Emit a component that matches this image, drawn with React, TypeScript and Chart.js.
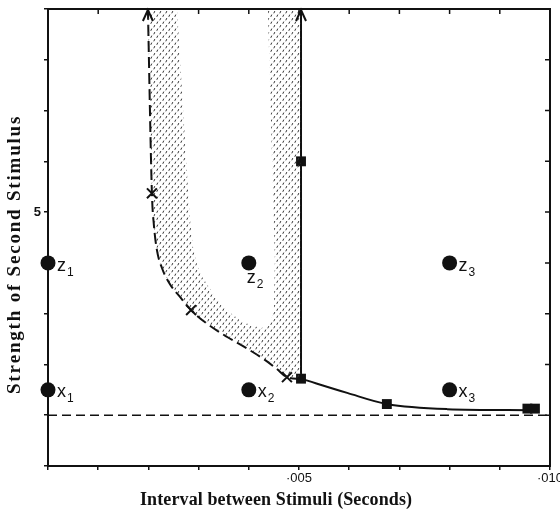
import React, { useEffect, useRef } from 'react';
import { Chart, registerables } from 'chart.js';

Chart.register(...registerables);

// ---------- axis ranges & tick labels ----------
const xMin = 0;
const xMax = 0.01;
const xStep = 0.001;
const yMin = 0;
const yMax = 9;
const yStep = 1;
const xTickLabelMilli = [5, 10];
const xTickLabelText = ['·005', '·010'];
const yTickLabelValues = [5];
const yTickLabelText = ['5'];
const xTitle = 'Interval between Stimuli (Seconds)';
const yTitle = 'Strength of Second Stimulus';

// ---------- labelled stimulus points ----------
const pointLetters = ['z', 'x', 'z', 'x', 'z', 'x'];
const pointSubs = ['1', '1', '2', '2', '3', '3'];
const pointX = [0, 0, 0.004, 0.004, 0.008, 0.008];
const pointY = [4, 1.5, 4, 1.5, 4, 1.5];

// ---------- threshold (dashed horizontal) ----------
const thresholdY = 1;

// ---------- dashed curve with crosses ----------
const dashedCurveX = [0.00199, 0.00207, 0.00211, 0.00217, 0.00227, 0.00243, 0.00263, 0.00285, 0.00313, 0.00357, 0.00392, 0.00432, 0.00456, 0.00476, 0.00504];
const dashedCurveY = [9.0, 5.37, 4.74, 4.25, 3.9, 3.58, 3.33, 3.07, 2.83, 2.54, 2.34, 2.09, 1.91, 1.75, 1.71];
const crossX = [0.00207, 0.00285, 0.00476];
const crossY = [5.37, 3.07, 1.75];

// ---------- solid curve with squares ----------
const solidVerticalX = [0.00504, 0.00504];
const solidVerticalY = [9.0, 1.72];
const solidCurveX = [0.00504, 0.00596, 0.00675, 0.00795, 0.00962];
const solidCurveY = [1.72, 1.44, 1.22, 1.12, 1.1];
const squareX = [0.00504, 0.00504, 0.00675, 0.00955, 0.0097];
const squareY = [6.0, 1.72, 1.22, 1.13, 1.13];

// ---------- shaded band (polygon: outer edge, then inner edge) ----------
const shadeX = [
  0.00199, 0.00207, 0.00211, 0.00217, 0.00227, 0.00243, 0.00263, 0.00285, 0.00313, 0.00357, 0.00392, 0.00432, 0.00456, 0.00476, 0.00504,
  0.00504, 0.00438, 0.00448, 0.00452, 0.0045, 0.00442, 0.00426, 0.00406, 0.00382, 0.0036, 0.00337, 0.00321, 0.00307, 0.00297, 0.00289, 0.00283, 0.00279, 0.00257, 0.00199,
];
const shadeY = [
  9.0, 5.37, 4.74, 4.25, 3.9, 3.58, 3.33, 3.07, 2.83, 2.54, 2.34, 2.09, 1.91, 1.75, 1.71,
  9.0, 9.0, 5.43, 4.06, 3.07, 2.78, 2.72, 2.76, 2.87, 3.05, 3.27, 3.52, 3.72, 3.96, 4.31, 4.84, 5.43, 9.0, 9.0,
];

const INK = '#111111';

const zip = (xs: number[], ys: number[]) => xs.map((x, i) => ({ x, y: ys[i] }));

function makePattern(ctx: CanvasRenderingContext2D): CanvasPattern | string {
  const c = document.createElement('canvas');
  c.width = 6;
  c.height = 7;
  const g = c.getContext('2d');
  if (!g) return 'rgba(0,0,0,0.3)';
  g.strokeStyle = '#333333';
  g.lineWidth = 1;
  g.lineCap = 'butt';
  g.beginPath();
  g.moveTo(0.8, 2.8);
  g.lineTo(1.8, 0.6);
  g.moveTo(3.8, 6.3);
  g.lineTo(4.8, 4.1);
  g.stroke();
  return ctx.createPattern(c, 'repeat') || 'rgba(0,0,0,0.3)';
}

function drawSpaced(ctx: CanvasRenderingContext2D, text: string, startX: number, y: number, targetW: number) {
  const w0 = ctx.measureText(text).width;
  const ls = (targetW - w0) / Math.max(1, text.length - 1);
  let x = startX;
  for (const ch of text) {
    ctx.fillText(ch, x, y);
    x += ctx.measureText(ch).width + ls;
  }
}

// label offsets relative to point centre (style only)
const labelDX = [9, 9, -2, 9, 9, 9];
const labelDY = [8, 7, 20, 7, 8, 7];

const overlayPlugin = {
  id: 'overlay',
  afterDatasetsDraw(chart: any) {
    const { ctx, chartArea, scales } = chart;
    const xs = scales.x;
    const ys = scales.y;
    ctx.save();
    // frame
    ctx.strokeStyle = INK;
    ctx.lineWidth = 2;
    ctx.strokeRect(chartArea.left, chartArea.top, chartArea.right - chartArea.left, chartArea.bottom - chartArea.top);
    // inward ticks top & right
    ctx.lineWidth = 1.5;
    ctx.beginPath();
    for (let m = 1; m <= 9; m++) {
      const px = xs.getPixelForValue(m * xStep);
      ctx.moveTo(px, chartArea.top);
      ctx.lineTo(px, chartArea.top + 5);
    }
    for (let v = yMin + yStep; v < yMax; v += yStep) {
      const py = ys.getPixelForValue(v);
      ctx.moveTo(chartArea.right, py);
      ctx.lineTo(chartArea.right - 5, py);
    }
    ctx.stroke();

    // arrowheads at the tops of the two vertical branches
    ctx.lineWidth = 2;
    const arrows = [
      { x: dashedCurveX[0], y: dashedCurveY[0] },
      { x: solidVerticalX[0], y: solidVerticalY[0] },
    ];
    for (const a of arrows) {
      const px = xs.getPixelForValue(a.x);
      const py = ys.getPixelForValue(a.y) + 1;
      ctx.beginPath();
      ctx.moveTo(px - 5, py + 11);
      ctx.lineTo(px, py);
      ctx.lineTo(px + 5, py + 11);
      ctx.stroke();
    }

    // point labels with subscripts
    ctx.fillStyle = INK;
    ctx.textBaseline = 'alphabetic';
    ctx.textAlign = 'left';
    for (let i = 0; i < pointLetters.length; i++) {
      const px = xs.getPixelForValue(pointX[i]);
      const py = ys.getPixelForValue(pointY[i]);
      const lx = px + labelDX[i];
      const ly = py + labelDY[i];
      ctx.font = '18px "Liberation Sans", Arial, sans-serif';
      ctx.fillText(pointLetters[i], lx, ly);
      const w = ctx.measureText(pointLetters[i]).width;
      ctx.font = '12px "Liberation Sans", Arial, sans-serif';
      ctx.fillText(pointSubs[i], lx + w + 1, ly + 5);
    }

    // axis titles
    ctx.textBaseline = 'middle';
    ctx.font = 'bold 18px "Liberation Serif", "DejaVu Serif", serif';
    drawSpaced(ctx, xTitle, 140, 500, 272);
    ctx.save();
    ctx.translate(15, 256);
    ctx.rotate(-Math.PI / 2);
    ctx.font = 'bold 19px "Liberation Serif", "DejaVu Serif", serif';
    drawSpaced(ctx, yTitle, -138, 0, 277);
    ctx.restore();
    ctx.restore();
  },
};

export default function App() {
  const canvasRef = useRef<HTMLCanvasElement | null>(null);

  useEffect(() => {
    document.body.style.margin = '0';
    const canvas = canvasRef.current;
    if (!canvas) return;
    const ctx = canvas.getContext('2d');
    if (!ctx) return;
    const pattern = makePattern(ctx);

    const chart = new Chart(ctx, {
      type: 'scatter',
      data: {
        datasets: [
          {
            label: 'shade',
            data: zip(shadeX, shadeY),
            showLine: true,
            borderWidth: 0,
            borderColor: 'rgba(0,0,0,0)',
            backgroundColor: pattern as any,
            fill: 'shape',
            pointRadius: 0,
            tension: 0,
          } as any,
          {
            label: 'threshold',
            data: [
              { x: xMin, y: thresholdY },
              { x: xMax, y: thresholdY },
            ],
            showLine: true,
            borderColor: INK,
            borderWidth: 1.5,
            borderDash: [9, 5],
            pointRadius: 0,
          },
          {
            label: 'dashed curve',
            data: zip(dashedCurveX, dashedCurveY),
            showLine: true,
            borderColor: INK,
            borderWidth: 2,
            borderDash: [11, 5],
            pointRadius: 0,
            cubicInterpolationMode: 'monotone',
          },
          {
            label: 'crosses',
            data: zip(crossX, crossY),
            showLine: false,
            pointStyle: 'crossRot',
            pointRadius: 7,
            borderColor: INK,
            pointBorderWidth: 2,
            borderWidth: 2,
          },
          {
            label: 'solid vertical',
            data: zip(solidVerticalX, solidVerticalY),
            showLine: true,
            borderColor: INK,
            borderWidth: 2,
            pointRadius: 0,
          },
          {
            label: 'solid curve',
            data: zip(solidCurveX, solidCurveY),
            showLine: true,
            borderColor: INK,
            borderWidth: 2,
            pointRadius: 0,
            cubicInterpolationMode: 'monotone',
          },
          {
            label: 'squares',
            data: zip(squareX, squareY),
            showLine: false,
            pointStyle: 'rect',
            pointRadius: 7,
            backgroundColor: INK,
            borderColor: INK,
            borderWidth: 0,
          },
          {
            label: 'stimuli',
            data: zip(pointX, pointY),
            showLine: false,
            pointStyle: 'circle',
            pointRadius: 7.5,
            backgroundColor: INK,
            borderColor: INK,
            borderWidth: 0,
            clip: false,
          } as any,
        ],
      },
      options: {
        animation: false,
        responsive: false,
        events: [],
        layout: { padding: { top: 9, right: 10, left: 0, bottom: 0 } },
        plugins: {
          legend: { display: false },
          tooltip: { enabled: false },
          title: { display: false },
        },
        scales: {
          x: {
            type: 'linear',
            min: xMin,
            max: xMax,
            border: { display: false },
            grid: {
              display: true,
              drawOnChartArea: false,
              drawTicks: true,
              tickLength: 4,
              color: INK,
              lineWidth: 1.5,
            },
            ticks: {
              stepSize: xStep,
              autoSkip: false,
              maxRotation: 0,
              padding: 1,
              color: INK,
              font: { family: '"Liberation Sans", Arial, sans-serif', size: 13 },
              callback: (v: any) => {
                const m = Math.round(Number(v) / xStep);
                const k = xTickLabelMilli.indexOf(m);
                return k >= 0 ? xTickLabelText[k] : '';
              },
            },
            afterFit: (s: any) => {
              s.height = 44;
              s.paddingLeft = 0;
              s.paddingRight = 0;
            },
          },
          y: {
            type: 'linear',
            min: yMin,
            max: yMax,
            border: { display: false },
            grid: {
              display: true,
              drawOnChartArea: false,
              drawTicks: true,
              tickLength: 4,
              color: INK,
              lineWidth: 1.5,
            },
            ticks: {
              stepSize: yStep,
              autoSkip: false,
              padding: 3,
              color: INK,
              font: { family: '"Liberation Sans", Arial, sans-serif', size: 13, weight: 'bold' },
              callback: (v: any) => {
                const k = yTickLabelValues.indexOf(Math.round(Number(v)));
                return k >= 0 ? yTickLabelText[k] : '';
              },
            },
            afterFit: (s: any) => {
              s.width = 48;
              s.paddingTop = 0;
              s.paddingBottom = 0;
            },
          },
        },
      } as any,
      plugins: [overlayPlugin],
    });

    return () => {
      chart.destroy();
    };
  }, []);

  return (
    <div style={{ width: 560, height: 510, background: '#fff' }}>
      <canvas ref={canvasRef} width={560} height={510} style={{ display: 'block' }} />
    </div>
  );
}
